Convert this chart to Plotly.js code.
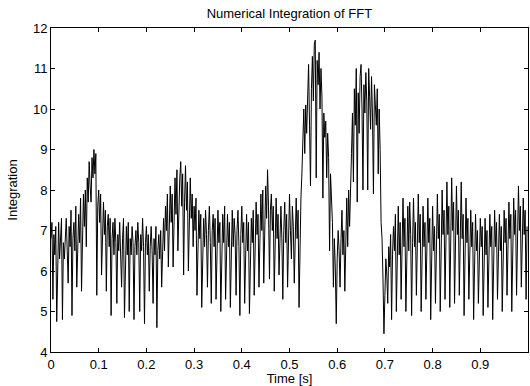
<!DOCTYPE html>
<html>
<head>
<meta charset="utf-8">
<script src="https://cdn.plot.ly/plotly-3.0.1.min.js"></script>
<style>html,body{margin:0;padding:0;background:#fff;}#chart{width:530px;height:386px;}</style>
</head>
<body>
<div id="chart"></div>
<script>
// Sampling of the integrated signal (seconds)
var startTime = 0;
var sampleStep = 0.002;

// Integration values, in 0.03 s blocks (15 samples each)
var integration = [
  6.8, 7.2, 5.3, 6.9, 6.4, 7.1, 4.75, 6.6, 7.2, 6.3, 6.9, 7.3, 4.8, 6.7, 6.3,
  7.0, 7.3, 6.5, 5.7, 7.1, 6.6, 7.5, 4.9, 6.8, 7.2, 6.5, 7.6, 5.6, 7.0, 7.4,
  6.7, 7.8, 5.5, 7.3, 7.9, 7.1, 8.0, 6.6, 8.3, 7.7, 8.7, 8.1, 7.7, 8.8, 8.3,
  9.0, 8.4, 8.9, 5.4, 7.6, 8.0, 7.2, 7.9, 5.9, 7.3, 7.7, 6.9, 7.5, 5.5, 7.1,
  7.4, 6.6, 7.3, 4.9, 6.8, 7.2, 6.4, 7.3, 6.7, 5.2, 6.9, 6.5, 7.2, 6.6, 5.6,
  6.8, 7.3, 4.85, 6.6, 7.1, 6.4, 7.2, 5.0, 6.8, 6.4, 7.1, 6.7, 4.8, 6.6, 7.0,
  6.4, 7.2, 6.7, 5.0, 6.9, 6.5, 7.3, 6.6, 4.7, 6.7, 7.1, 6.4, 6.9, 5.5, 6.6,
  7.1, 6.5, 5.2, 6.8, 6.4, 7.1, 4.6, 6.5, 6.9, 6.3, 7.0, 5.6, 6.6, 7.3, 6.5,
  7.6, 7.0, 7.9, 6.1, 7.5, 8.1, 7.2, 7.9, 6.1, 7.7, 8.3, 7.4, 8.5, 6.5, 7.8,
  8.3, 8.7, 7.6, 8.4, 5.9, 7.7, 8.6, 7.5, 8.2, 6.0, 7.6, 8.3, 7.3, 7.9, 6.6,
  7.6, 7.0, 7.8, 5.4, 7.1, 7.5, 6.8, 7.4, 5.1, 6.9, 7.3, 6.6, 7.5, 6.9, 5.6,
  7.0, 7.6, 6.7, 5.2, 7.0, 7.4, 6.6, 7.3, 5.3, 6.9, 7.5, 6.7, 7.2, 5.0, 6.8,
  7.4, 6.7, 7.6, 5.3, 7.0, 7.4, 6.6, 7.2, 5.1, 6.8, 7.5, 6.6, 7.3, 6.9, 5.4,
  7.0, 7.5, 6.6, 4.9, 6.9, 7.6, 6.7, 7.2, 5.2, 6.9, 7.4, 6.5, 7.2, 4.95, 6.8,
  7.3, 6.7, 7.5, 5.4, 7.1, 7.7, 6.9, 7.4, 5.6, 7.3, 7.9, 7.0, 8.0, 5.7, 7.4,
  8.1, 7.3, 8.5, 7.6, 5.8, 7.5, 7.9, 7.0, 7.6, 5.5, 7.1, 7.8, 6.8, 7.4, 5.9,
  7.1, 7.6, 6.8, 5.3, 7.0, 7.7, 6.7, 7.4, 5.6, 7.2, 7.9, 7.0, 6.3, 7.6, 7.1,
  5.7, 7.3, 7.8, 6.8, 7.5, 5.1, 7.0, 7.8, 8.4, 9.2, 10.0, 8.9, 10.1, 9.4, 10.5,
  11.1, 9.6, 8.1, 10.5, 11.3, 10.2, 11.6, 11.7, 8.3, 11.2, 10.6, 11.4, 10.0, 11.0, 10.3,
  7.8, 9.9, 9.3, 9.7, 8.3, 9.4, 8.8, 6.5, 8.4, 7.6, 7.2, 5.6, 6.8, 6.1, 4.7,
  6.3, 7.0, 6.5, 5.6, 6.8, 7.5, 6.4, 7.0, 5.5, 7.2, 7.8, 6.6, 8.0, 7.1, 8.4,
  8.9, 9.9, 8.2, 10.5, 9.6, 11.0, 7.7, 10.4, 9.4, 10.8, 11.1, 10.0, 8.0, 10.6, 9.9,
  10.9, 10.2, 8.0, 11.0, 10.3, 9.5, 10.8, 9.8, 7.9, 10.6, 10.1, 9.6, 10.5, 8.4, 10.0,
  9.0, 7.2, 6.8, 5.8, 4.45, 5.4, 6.3, 5.9, 5.2, 6.6, 6.1, 6.9, 4.8, 6.4, 7.1,
  6.5, 7.4, 5.0, 6.8, 7.6, 6.4, 7.2, 5.3, 6.9, 7.8, 6.6, 7.3, 5.0, 6.8, 7.6,
  6.5, 7.7, 6.9, 4.9, 6.7, 7.8, 6.6, 7.2, 5.4, 6.9, 7.9, 6.7, 7.4, 5.0, 6.8,
  7.6, 6.6, 7.2, 5.3, 7.0, 7.8, 6.7, 7.3, 4.8, 6.8, 7.6, 6.5, 7.1, 5.2, 6.9,
  7.9, 6.8, 7.4, 5.0, 7.0, 8.0, 6.9, 7.5, 5.3, 7.2, 8.2, 6.9, 7.6, 5.1, 7.3,
  8.3, 7.0, 7.7, 5.2, 7.1, 8.1, 6.9, 7.5, 5.4, 7.3, 8.2, 6.8, 7.4, 4.9, 7.0,
  7.8, 6.7, 7.3, 5.3, 6.9, 7.5, 6.6, 7.2, 4.8, 6.8, 7.4, 6.5, 7.0, 5.2, 6.7,
  7.3, 6.6, 7.1, 4.9, 6.8, 7.3, 6.4, 7.0, 5.1, 6.9, 7.4, 6.6, 7.1, 4.8, 6.7,
  7.5, 6.6, 7.2, 5.3, 6.9, 7.4, 6.5, 7.1, 5.0, 6.8, 7.5, 6.7, 7.3, 5.4, 7.0,
  7.7, 6.8, 7.4, 5.0, 7.1, 7.8, 6.9, 7.5, 5.4, 7.3, 8.1, 7.0, 7.6, 5.6, 7.2,
  7.8, 6.9, 7.5, 5.3, 7.1
];

var xTickValues = [0, 0.1, 0.2, 0.3, 0.4, 0.5, 0.6, 0.7, 0.8, 0.9];
var xTickLabels = ["0", "0.1", "0.2", "0.3", "0.4", "0.5", "0.6", "0.7", "0.8", "0.9"];
var yTickValues = [4, 5, 6, 7, 8, 9, 10, 11, 12];

var fontFamily = "'Liberation Sans', Arial, Helvetica, sans-serif";

var trace = {
  type: "scatter",
  mode: "lines",
  x0: startTime,
  dx: sampleStep,
  y: integration,
  line: {color: "#000000", width: 1},
  hoverinfo: "skip"
};

var layout = {
  width: 530,
  height: 386,
  margin: {l: 51, r: 2, t: 28, b: 34},
  paper_bgcolor: "#ffffff",
  plot_bgcolor: "#ffffff",
  showlegend: false,
  font: {family: fontFamily, size: 13, color: "#000000"},
  title: {
    text: "Numerical Integration of FFT",
    font: {family: fontFamily, size: 13, color: "#000000"},
    x: 0.546, xanchor: "center",
    y: 0.965, yanchor: "middle"
  },
  xaxis: {
    range: [0, 1],
    tickvals: xTickValues,
    ticktext: xTickLabels,
    ticks: "inside",
    ticklen: 4,
    tickcolor: "#000000",
    showline: true,
    linecolor: "#000000",
    linewidth: 1,
    mirror: "allticks",
    showgrid: false,
    zeroline: false,
    tickfont: {family: fontFamily, size: 13, color: "#000000"},
    title: {text: "Time [s]", font: {family: fontFamily, size: 13, color: "#000000"}, standoff: 2}
  },
  yaxis: {
    range: [4, 12],
    tickvals: yTickValues,
    ticks: "inside",
    ticklen: 4,
    tickcolor: "#000000",
    showline: true,
    linecolor: "#000000",
    linewidth: 1,
    mirror: "allticks",
    showgrid: false,
    zeroline: false,
    tickfont: {family: fontFamily, size: 13, color: "#000000"},
    title: {text: "Integration", font: {family: fontFamily, size: 13, color: "#000000"}, standoff: 12}
  }
};

Plotly.newPlot("chart", [trace], layout, {staticPlot: true, displayModeBar: false});
</script>
</body>
</html>
